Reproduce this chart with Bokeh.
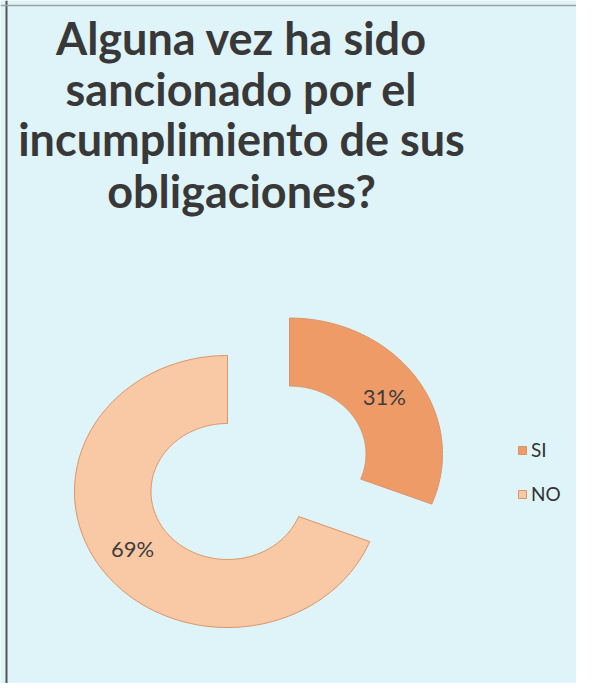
import numpy as np
from bokeh.plotting import figure
from bokeh.models import ColumnDataSource, Label, Legend, LegendItem, Span
from bokeh.embed import file_html
from bokeh.resources import INLINE

# ---- data ----
title_lines = ["Alguna vez ha sido", "sancionado por el", "incumplimiento de sus", "obligaciones?"]
categories = ["SI", "NO"]
percents = [31, 69]
colors = ["#EF9B68", "#F9C8A4"]
explode = [0.49, 0.0]

W, H = 576, 683
BG = "#DFF4F8"

# layout: pixel scale per data unit (source image is slightly stretched horizontally)
sx, sy = 153.0, 136.0
cx_px, cy_px = 227.0, 491.0  # centre of the un-exploded ring, px from top-left of plot
x0 = -cx_px / sx
x1 = (W - cx_px) / sx
y1 = cy_px / sy
y0 = -(H - cy_px) / sy

p = figure(width=W, height=H, output_backend="svg", toolbar_location=None,
           x_range=(x0, x1), y_range=(y0, y1), min_border=0,
           background_fill_color=BG, border_fill_color=BG, outline_line_color=None)
p.axis.visible = False
p.grid.visible = False

# ---- donut slices ----
R_OUT, R_IN = 1.0, 0.5
fr = np.array(percents, dtype=float) / sum(percents)
starts = np.pi / 2 - 2 * np.pi * np.concatenate([[0], np.cumsum(fr)[:-1]])
ends = starts - 2 * np.pi * fr
xs, ys, lx, ly = [], [], [], []
for s, e, ex in zip(starts, ends, explode):
    mid = (s + e) / 2
    ox, oy = ex * np.cos(mid), ex * np.sin(mid)
    t = np.linspace(s, e, 200)
    px = np.concatenate([R_OUT * np.cos(t), R_IN * np.cos(t[::-1])]) + ox
    py = np.concatenate([R_OUT * np.sin(t), R_IN * np.sin(t[::-1])]) + oy
    xs.append(list(px)); ys.append(list(py))
    rm = (R_OUT + R_IN) / 2
    lx.append(ox + rm * np.cos(mid)); ly.append(oy + rm * np.sin(mid))

renderers = []
for i in range(len(categories)):
    r = p.patches(xs=[xs[i]], ys=[ys[i]], fill_color=colors[i], line_color="#D99468",
                  line_width=1)
    renderers.append(r)

lsrc = ColumnDataSource(dict(x=lx, y=ly, t=[f"{v}%" for v in percents]))
p.text(x="x", y="y", text="t", source=lsrc, text_align="center", text_baseline="middle",
       text_font={"value": "Lato"}, text_font_size="22px", text_color="#3d3d3d")

# ---- title ----
baselines_px = [55, 106, 156, 208]
for line, b in zip(title_lines, baselines_px):
    p.add_layout(Label(x=241, y=H - (b - 18), x_units="screen", y_units="screen", text=line,
                       text_align="center", text_baseline="alphabetic",
                       text_font="Lato", text_font_style="bold", text_font_size="45px",
                       text_color="#383838"))

# ---- legend ----
legend = Legend(items=[LegendItem(label=c, renderers=[r]) for c, r in zip(categories, renderers)],
                location=(517, 178), orientation="vertical",
                background_fill_alpha=0, border_line_color=None,
                glyph_width=10, glyph_height=10, label_standoff=4,
                label_text_font="Lato", label_text_font_size="19px", label_text_color="#333333",
                spacing=21, padding=0, margin=0, label_height=20)
p.add_layout(legend, "center")

# ---- border (top/left, as in scan) ----
p.add_layout(Span(location=x0 + 6 / sx, dimension="height", line_color="#555555", line_width=2))
p.add_layout(Span(location=y1 - 5 / sy, dimension="width", line_color="#A0A0A0", line_width=1.5))

open("out.html", "w").write(file_html(p, INLINE))
